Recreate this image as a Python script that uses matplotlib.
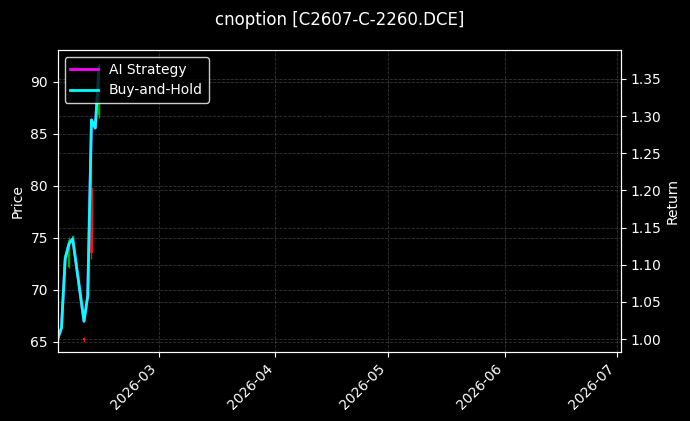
import matplotlib
matplotlib.use("Agg")
import matplotlib.pyplot as plt
import matplotlib.dates as mdates
import numpy as np
import pandas as pd

plt.style.use("dark_background")

# ---- data ----
dates = ["2026-02-02", "2026-02-03", "2026-02-04", "2026-02-05", "2026-02-06",
         "2026-02-09", "2026-02-10", "2026-02-11", "2026-02-12", "2026-02-13"]
open_ = [65.2, 66.2, 73.0, 72.2, 75.0, 65.4, 69.3, 79.8, 86.1, 86.8]
high = [65.3, 66.5, 73.5, 75.1, 75.3, 65.5, 69.8, 82.5, 86.3, 91.8]
low = [65.1, 66.1, 72.9, 72.1, 74.9, 65.0, 69.2, 73.0, 85.7, 86.5]
close = [65.3, 66.4, 73.3, 74.8, 75.2, 65.2, 69.6, 73.5, 85.9, 91.0]
ai_return = [1.000, 1.015, 1.108, 1.128, 1.135, 1.024, 1.058, 1.295, 1.284, 1.366]
bh_return = [1.000, 1.015, 1.108, 1.128, 1.135, 1.024, 1.058, 1.295, 1.284, 1.366]
xlim_dates = ["2026-02-02", "2026-07-02"]
title = "cnoption [C2607-C-2260.DCE]"

d = pd.to_datetime(dates)
x = mdates.date2num(d)

fig = plt.figure(figsize=(6.9, 4.21), dpi=100)
fig.patch.set_facecolor("black")
ax = fig.add_axes([0.0836, 0.1646, 0.8164, 0.7166])
ax.set_facecolor("black")
ax2 = ax.twinx()

# candlesticks on price axis
for xi, o, h, l, c in zip(x, open_, high, low, close):
    col = "#00b000" if c >= o else "#ff1010"
    ax.vlines(xi, l, h, color=col, linewidth=1.0, zorder=2)
    ax.bar(xi, abs(c - o) if abs(c - o) > 0.05 else 0.1, bottom=min(o, c),
           width=0.6, color=col, edgecolor=col, linewidth=0, zorder=2)

ax2.plot(d, ai_return, color="magenta", linewidth=2, label="AI Strategy")
ax2.plot(d, bh_return, color="cyan", linewidth=2, label="Buy-and-Hold")

ax.set_xlim(pd.to_datetime(xlim_dates[0]), pd.to_datetime(xlim_dates[1]))
ax.set_ylim(64.04, 93.05)
ax2.set_ylim(0.983, 1.389)
ax.set_yticks([65, 70, 75, 80, 85, 90])
ax2.set_yticks([1.00, 1.05, 1.10, 1.15, 1.20, 1.25, 1.30, 1.35])

ax.xaxis.set_major_locator(mdates.MonthLocator())
ax.xaxis.set_major_formatter(mdates.DateFormatter("%Y-%m"))
for lab in ax.get_xticklabels():
    lab.set_rotation(45)
    lab.set_ha("right")

ax.grid(True, linestyle="--", linewidth=0.6, color="gray", alpha=0.4)
ax2.grid(True, linestyle="--", linewidth=0.6, color="gray", alpha=0.4)

ax.set_ylabel("Price", color="white", fontsize=10)
ax2.set_ylabel("Return", color="white", fontsize=10, labelpad=3)
ax.tick_params(colors="white", labelsize=10)
ax2.tick_params(colors="white", labelsize=10)
for sp in list(ax.spines.values()) + list(ax2.spines.values()):
    sp.set_color("white")

ax.set_title(title, color="white", fontsize=12, pad=18)

leg = ax2.legend(loc="upper left", fontsize=10, facecolor="black",
                 edgecolor="white", framealpha=0.8)
for t in leg.get_texts():
    t.set_color("white")

fig.savefig("out.png", dpi=100, facecolor="black")
